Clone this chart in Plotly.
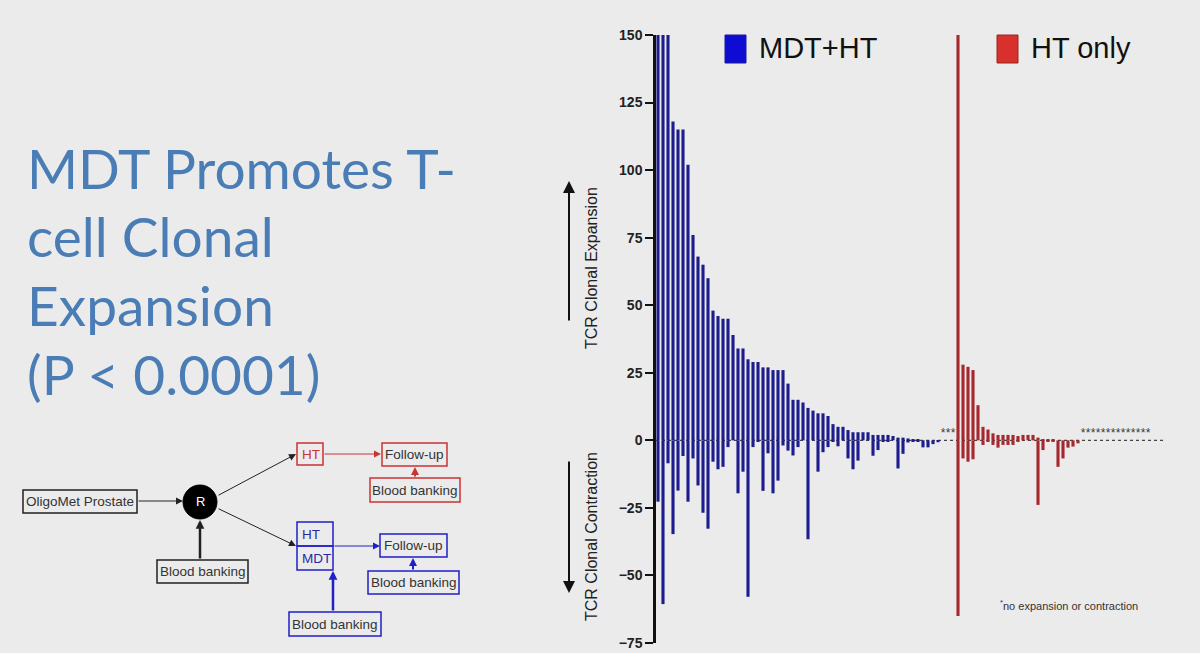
import plotly.graph_objects as go

W, H = 1200, 653

# ---------------- data ----------------
mdt_ht_expansion = [160, 160, 160, 118, 115, 115, 102, 76, 68, 65,
                    60, 48, 46, 45, 45, 39, 34, 34, 30, 29,
                    29, 27, 27, 26, 26, 26, 21, 15, 15, 14,
                    12, 11, 10, 10, 9, 6, 5, 5, 3.8, 3,
                    3, 3, 3, 2, 2, 2, 2, 1.6, 1, 1,
                    0.7, 0.4, 0.3, 0, 0, 0, 0]
mdt_ht_contraction = [-22.7, -60.6, -8.5, -34.7, -18.6, -5.8, -22.7, -6.7, -16.7, -26.8,
                      -32.7, -7.9, -10.7, -9.8, -2.5, 0, -19.6, -11.6, -57.9, -2.5,
                      -0.5, -18.7, -4.8, -19.6, -14.9, -1.9, -3.8, -5.6, -2.5, 0,
                      -36.6, 0, -11.6, -4.4, -2.5, -0.5, -2.2, 0, -6.7, -10.7,
                      -7.5, 0, 0, -5.7, -3.6, -0.5, -0.5, 0, -10.4, -5,
                      -0.8, -0.4, -0.3, -2.6, -2.6, -1.4, -0.7]
mdt_ht_no_change = 3

ht_only_expansion = [160, 28, 27.2, 26, 13, 5, 4, 2.6, 2, 2,
                     2, 2, 1.6, 2, 2, 2, 1, 0.5, 0.5, 0.5,
                     0, 0, 0, 0, 0]
ht_only_contraction = [-65, -6.7, -7.9, -7, 0, -1.7, -0.5, -1.7, -2.7, -1.7,
                       -1.7, -1.7, -0.5, 0, 0, 0, -23.9, -3.6, -0.5, -0.5,
                       -9.8, -6.7, -2.7, -2.3, -1.1]
ht_only_no_change = 14

y_ticks = [-75, -50, -25, 0, 25, 50, 75, 100, 125, 150]

title_lines = ["MDT Promotes T-", "cell Clonal", "Expansion", "(P &lt; 0.0001)"]

# ---------------- derived patient positions ----------------
n_b = len(mdt_ht_expansion)
x_blue = list(range(1, n_b + 1))
x_blue_zero = list(range(n_b + 1, n_b + 1 + mdt_ht_no_change))
start_r = n_b + mdt_ht_no_change + 1
n_r = len(ht_only_expansion)
x_red = list(range(start_r, start_r + n_r))
x_red_zero = list(range(start_r + n_r, start_r + n_r + ht_only_no_change))
x_end = x_red_zero[-1]

BAR_BLUE = "#1c1c8e"
BAR_RED = "#a6272c"
BG = "#ebebeb"
SANS = "Liberation Sans, Arial"

fig = go.Figure()
for xs, vals, col in [(x_blue, mdt_ht_expansion, BAR_BLUE),
                      (x_blue, mdt_ht_contraction, BAR_BLUE),
                      (x_red, ht_only_expansion, BAR_RED),
                      (x_red, ht_only_contraction, BAR_RED)]:
    fig.add_trace(go.Bar(x=xs, y=vals, width=0.62, marker=dict(color=col, line=dict(width=0)),
                         showlegend=False, hoverinfo="x+y"))

# asterisks for patients with no change
zx = x_blue_zero + x_red_zero
fig.add_trace(go.Scatter(x=zx, y=[0] * len(zx), mode="text", text=["*"] * len(zx),
                         textposition="top center",
                         textfont=dict(size=12, color="#3a3a3a", family=SANS),
                         showlegend=False, hoverinfo="skip"))


def px(x):
    return x / W


def py(y):
    return 1 - y / H


shapes = []
annotations = []


def note(x, y, text, size, color, xanchor="center", yanchor="middle", family=SANS, **kw):
    d = dict(xref="paper", yref="paper", x=px(x), y=py(y), text=text, showarrow=False,
             xanchor=xanchor, yanchor=yanchor, font=dict(size=size, color=color, family=family))
    d.update(kw)
    annotations.append(d)


# dotted zero line
shapes.append(dict(type="line", xref="x", yref="y", x0=0.6, x1=x_end + 3.4, y0=0, y1=0,
                   line=dict(color="#444444", width=1.3, dash="dot"), layer="below"))

# legend
shapes.append(dict(type="rect", xref="paper", yref="paper", x0=px(725), x1=px(746), y0=py(63), y1=py(35),
                   fillcolor="#0c0cd4", line=dict(color="#1a1a90", width=1)))
shapes.append(dict(type="rect", xref="paper", yref="paper", x0=px(997), x1=px(1018), y0=py(63), y1=py(35),
                   fillcolor="#d8302a", line=dict(color="#9a2424", width=1)))
note(757, 48, "MDT+HT", 29, "#111111", xanchor="left")
note(1029, 48, "HT only", 29, "#111111", xanchor="left")

# title (one annotation per line)
for i, line in enumerate(title_lines):
    note(25, 168 + i * 68.5, line, 55, "#4a7db5", xanchor="left", family="Lato")

# side labels with arrows
note(591, 268, "TCR Clonal Expansion", 16, "#222222", textangle=-90)
note(591, 537, "TCR Clonal Contraction", 16, "#222222", textangle=-90)
annotations.append(dict(xref="paper", yref="paper", x=px(569), y=py(181), ax=0, ay=141, text="",
                        showarrow=True, arrowhead=2, arrowsize=1.2, arrowwidth=2, arrowcolor="#111111"))
annotations.append(dict(xref="paper", yref="paper", x=px(569), y=py(593), ax=0, ay=-133, text="",
                        showarrow=True, arrowhead=2, arrowsize=1.2, arrowwidth=2, arrowcolor="#111111"))

# footnote
note(998, 605, "<sup>*</sup>no expansion or contraction", 11, "#333333", xanchor="left")

# ---------------- study diagram ----------------
BLK = "#222222"
RED = "#cc3333"
BLU = "#2020c8"
TXT = "#333333"


def box(x0, y0, x1, y1, col, text=None, tcol=TXT, size=13.5, left=False):
    shapes.append(dict(type="rect", xref="paper", yref="paper", x0=px(x0), x1=px(x1), y0=py(y1), y1=py(y0),
                       line=dict(color=col, width=1.5), fillcolor="rgba(0,0,0,0)"))
    if text:
        if left:
            note(x0 + 3, (y0 + y1) / 2, text, size, tcol, xanchor="left")
        else:
            note((x0 + x1) / 2, (y0 + y1) / 2, text, size, tcol)


def arrow(tx, ty, hx, hy, col, width=1.0, size=1.4):
    annotations.append(dict(xref="paper", yref="paper", x=px(hx), y=py(hy), ax=tx - hx, ay=ty - hy,
                            text="", showarrow=True, arrowhead=2, arrowsize=size, arrowwidth=width,
                            arrowcolor=col, standoff=0, startstandoff=0))


box(23, 490, 137, 513, BLK, "OligoMet Prostate")
box(157, 560, 248, 583, BLK, "Blood banking")
shapes.append(dict(type="circle", xref="paper", yref="paper", x0=px(183), x1=px(217), y0=py(519), y1=py(485),
                   fillcolor="#000000", line=dict(color="#000000", width=1)))
note(200, 502, "R", 13, "#ffffff")
box(297, 443, 323, 465, RED, "HT", tcol=RED, left=True)
box(382, 443, 447, 466, RED, "Follow-up")
box(370, 478, 460, 502, RED, "Blood banking")
box(297, 522, 333, 546, BLU, "HT", tcol="#2a2aa8", left=True)
box(297, 546, 333, 570, BLU, "MDT", tcol="#2a2aa8", left=True)
box(380, 534, 447, 557, BLU, "Follow-up")
box(368, 571, 459, 594, BLU, "Blood banking")
box(289, 612, 381, 636, BLU, "Blood banking")

arrow(137, 501, 183, 501, BLK, 1.0, 1.4)
arrow(200, 560, 200, 520, BLK, 2.5, 0.7)
arrow(217, 496, 296, 454, BLK, 1.0, 1.4)
arrow(217, 508, 296, 546, BLK, 1.0, 1.4)
arrow(323, 454, 381, 454, RED, 1.0, 1.4)
arrow(415, 478, 415, 467, RED, 2.0, 0.8)
arrow(333, 546, 380, 546, BLU, 1.0, 1.4)
arrow(413, 571, 413, 558, BLU, 2.0, 0.8)
arrow(333, 612, 333, 571, BLU, 2.5, 0.7)

fig.update_layout(
    width=W, height=H,
    margin=dict(l=0, r=0, t=0, b=0, autoexpand=False),
    paper_bgcolor=BG, plot_bgcolor=BG,
    barmode="overlay",
    shapes=shapes, annotations=annotations,
    xaxis=dict(domain=[px(656), px(1170)], range=[0.6, x_end + 4.4], visible=False),
    yaxis=dict(domain=[py(643), py(35)], range=[-75, 150], tickvals=y_ticks, automargin=False,
               showline=True, linewidth=2.5, linecolor="#111111", ticks="outside", ticklen=8,
               tickwidth=2, tickcolor="#111111", showgrid=False, zeroline=False,
               tickfont=dict(size=14, color="#222222", family=SANS, weight="bold")),
    showlegend=False,
)

fig.write_html("out.html")
